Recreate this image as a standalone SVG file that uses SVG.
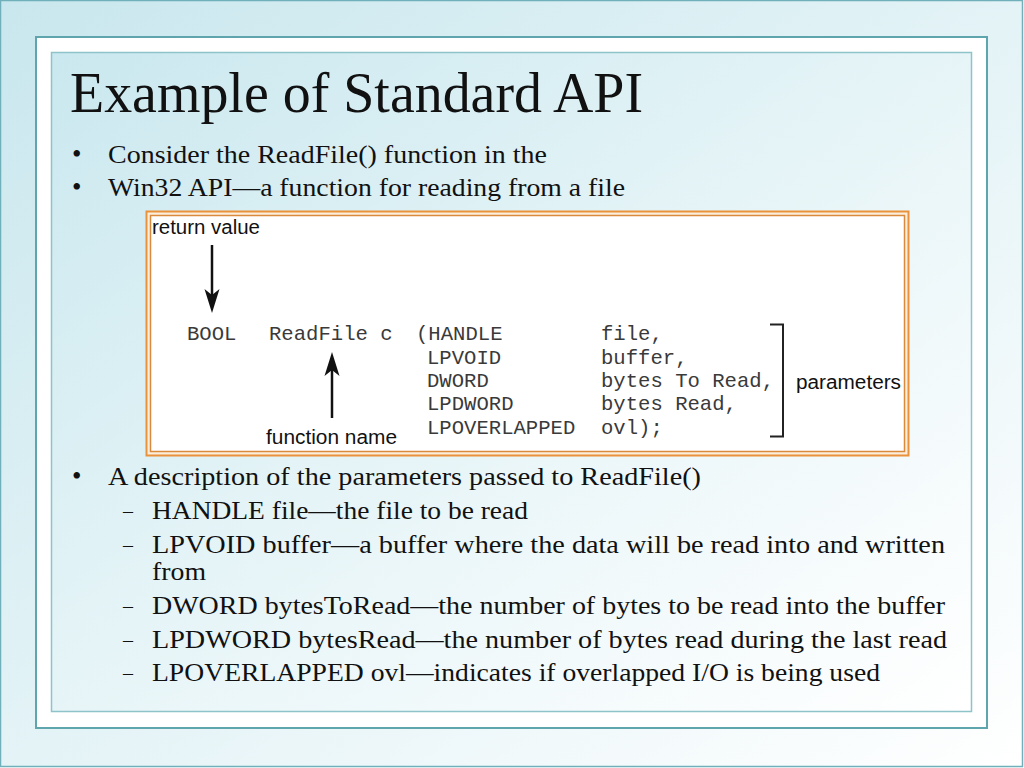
<svg xmlns="http://www.w3.org/2000/svg" width="1024" height="768" viewBox="0 0 1024 768">
  <defs>
    <linearGradient id="bg" x1="0" y1="0" x2="1" y2="1">
      <stop offset="0" stop-color="#c9e7ee"/>
      <stop offset="0.55" stop-color="#e6f4f7"/>
      <stop offset="1" stop-color="#ffffff"/>
    </linearGradient>
    <linearGradient id="inner" x1="0" y1="0" x2="1" y2="1">
      <stop offset="0" stop-color="#cae8ef"/>
      <stop offset="0.6" stop-color="#ecf7f9"/>
      <stop offset="1" stop-color="#ffffff"/>
    </linearGradient>
    <style>
      .serif { font-family: "Liberation Serif", "Times New Roman", serif; fill: #111; }
      .title { font-size: 56px; }
      .body { font-size: 26px; }
      .dot { font-size: 27px; }
      .dash { font-size: 20px; }
      .mono { font-family: "Liberation Mono", "Courier New", monospace; font-size: 20.6px; fill: #3a3a3a; }
      .sans { font-family: "Liberation Sans", Arial, sans-serif; font-size: 20px; fill: #111; }
      .arrow { fill: #111; }
      .line { stroke: #111; stroke-width: 2.5; fill: none; }
    </style>
  </defs>

  <!-- background frames -->
  <rect x="0.5" y="0.5" width="1022" height="766" fill="url(#bg)" stroke="#6fb0ba" stroke-width="1.5"/>
  <rect x="36" y="37" width="951" height="691" fill="#ffffff" stroke="#5ea5ae" stroke-width="2"/>
  <rect x="51.5" y="52.5" width="920" height="659" fill="url(#inner)" stroke="#8ec3ca" stroke-width="1.5"/>

  <!-- title -->
  <g id="title">
    <text class="serif title" x="70" y="112" textLength="573" lengthAdjust="spacingAndGlyphs">Example of Standard API</text>
  </g>

  <!-- bullets -->
  <g id="bullets-top">
    <text class="serif dot" x="72" y="163">•</text>
    <text class="serif body" x="108" y="163" textLength="439" lengthAdjust="spacingAndGlyphs">Consider the ReadFile() function in the</text>
    <text class="serif dot" x="72" y="196">•</text>
    <text class="serif body" x="108" y="196" textLength="517" lengthAdjust="spacingAndGlyphs">Win32 API—a function for reading from a file</text>
  </g>

  <!-- code figure -->
  <g id="code-box">
    <rect x="146.5" y="211.5" width="762" height="244" fill="#fbeedd" stroke="#e9913b" stroke-width="2"/>
    <rect x="150.5" y="215.5" width="754" height="236" fill="#ffffff" stroke="#d98a3c" stroke-width="1.5"/>
  </g>

  <g id="return-value">
    <text class="sans" x="152" y="234" textLength="108" lengthAdjust="spacingAndGlyphs">return value</text>
  </g>
  <g id="function-name">
    <text class="sans" x="266" y="444" textLength="131" lengthAdjust="spacingAndGlyphs">function name</text>
  </g>
  <g id="parameters">
    <text class="sans" x="796" y="389" textLength="105" lengthAdjust="spacingAndGlyphs">parameters</text>
  </g>

  <g id="code">
    <text class="mono" x="187" y="340">BOOL</text>
    <text class="mono" x="269" y="340">ReadFile c</text>
    <text class="mono" x="416" y="340">(HANDLE</text>
    <text class="mono" x="427" y="363.5">LPVOID</text>
    <text class="mono" x="427" y="387">DWORD</text>
    <text class="mono" x="427" y="410">LPDWORD</text>
    <text class="mono" x="427" y="433.5">LPOVERLAPPED</text>
    <text class="mono" x="601" y="340">file,</text>
    <text class="mono" x="601" y="363.5">buffer,</text>
    <text class="mono" x="601" y="387">bytes To Read,</text>
    <text class="mono" x="601" y="410">bytes Read,</text>
    <text class="mono" x="601" y="433.5">ovl);</text>
  </g>

  <g id="connectors">
    <line class="line" x1="212" y1="245" x2="212" y2="296"/>
    <path class="arrow" d="M212,313 L204.5,289 L212,295 L219.5,289 Z"/>
    <line class="line" x1="332" y1="418" x2="332" y2="368"/>
    <path class="arrow" d="M332,352 L324.5,376 L332,370 L339.5,376 Z"/>
    <path d="M770,324.5 L783,324.5 L783,436.5 L770,436.5" fill="none" stroke="#222" stroke-width="2"/>
  </g>

  <!-- lower bullets -->
  <g id="bullets-bottom">
    <text class="serif dot" x="72" y="485">•</text>
    <text class="serif body" x="108" y="485" textLength="593" lengthAdjust="spacingAndGlyphs">A description of the parameters passed to ReadFile()</text>
    <text class="serif dash" x="123" y="518">–</text>
    <text class="serif body" x="152" y="519" textLength="376" lengthAdjust="spacingAndGlyphs">HANDLE file—the file to be read</text>
    <text class="serif dash" x="123" y="552">–</text>
    <text class="serif body" x="152" y="553" textLength="793" lengthAdjust="spacingAndGlyphs">LPVOID buffer—a buffer where the data will be read into and written</text>
    <text class="serif body" x="152" y="580" textLength="54" lengthAdjust="spacingAndGlyphs">from</text>
    <text class="serif dash" x="123" y="613">–</text>
    <text class="serif body" x="152" y="614" textLength="793" lengthAdjust="spacingAndGlyphs">DWORD bytesToRead—the number of bytes to be read into the buffer</text>
    <text class="serif dash" x="123" y="647">–</text>
    <text class="serif body" x="152" y="648" textLength="795" lengthAdjust="spacingAndGlyphs">LPDWORD bytesRead—the number of bytes read during the last read</text>
    <text class="serif dash" x="123" y="680">–</text>
    <text class="serif body" x="152" y="681" textLength="728" lengthAdjust="spacingAndGlyphs">LPOVERLAPPED ovl—indicates if overlapped I/O is being used</text>
  </g>
</svg>
